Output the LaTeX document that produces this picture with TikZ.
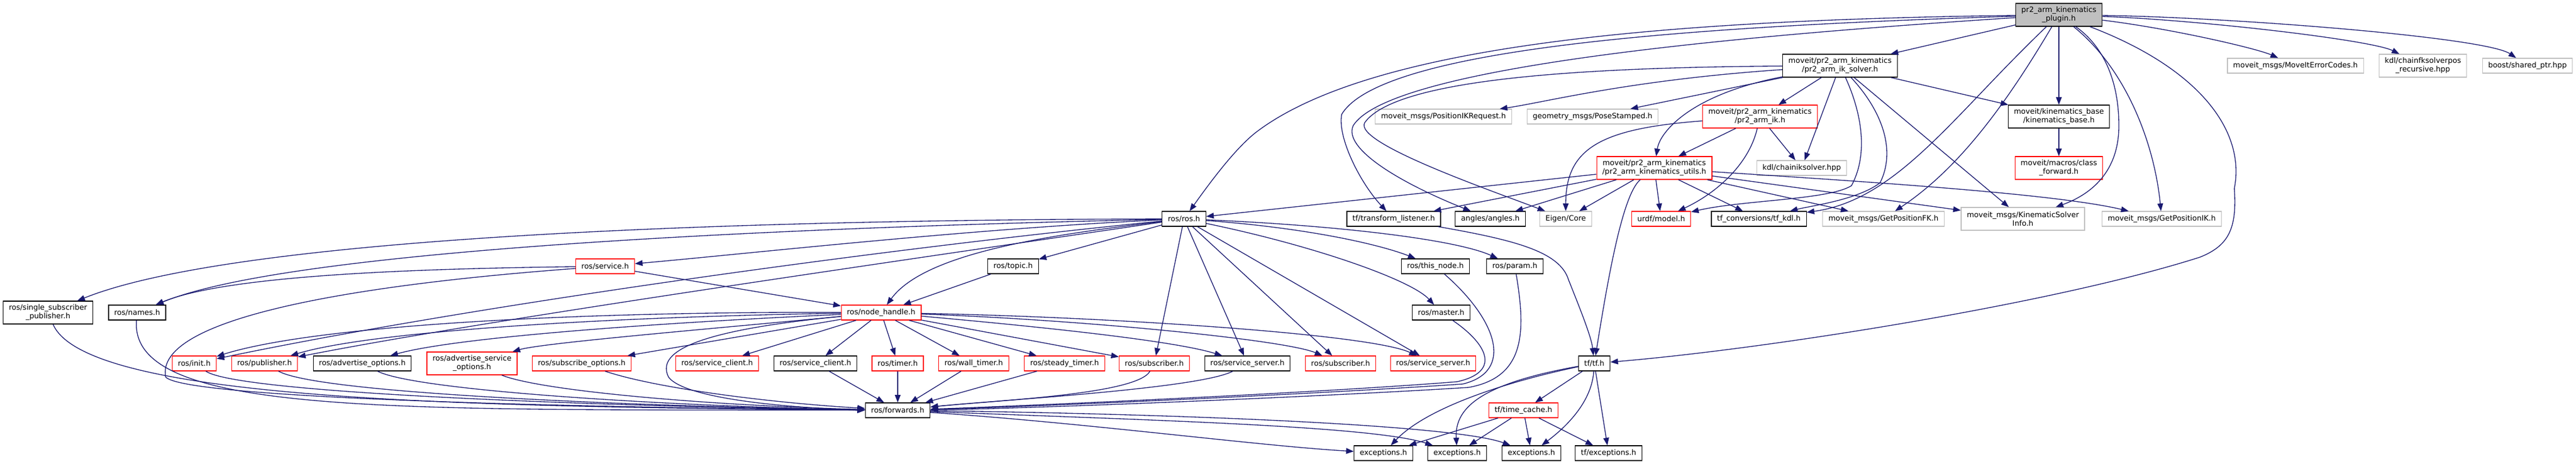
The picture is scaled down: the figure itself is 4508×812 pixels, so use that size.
\documentclass[tikz,border=0pt]{standalone}
\usepackage{fontspec}
\setmainfont{DejaVu Sans}
\usetikzlibrary{arrows.meta}
\definecolor{edgeblue}{HTML}{191970}
\definecolor{extgray}{HTML}{BFBFBF}
\begin{document}
\begin{tikzpicture}[x=0.75pt,y=-0.75pt,
	file/.style={draw,rectangle,line width=0.9pt,inner xsep=7.5pt,inner ysep=2pt,minimum height=19.5pt,align=center,font=\fontsize{9.75pt}{11.25pt}\selectfont},
	two/.style={minimum height=30pt},
	doc/.style={file,draw=black},
	trunc/.style={file,draw=red},
	ext/.style={file,draw=extgray},
	root/.style={file,draw=black,fill=extgray},
	inc/.style={draw=edgeblue,line width=1pt,-{Triangle[length=10pt,width=7.5pt]}}]
	\useasboundingbox (0,0) rectangle (4508,812);
	\node (Pl) at (3603,26) [root,two] {pr2\_arm\_kinematics\\\_plugin.h};
	\node (Is) at (3220,115) [doc,two] {moveit/pr2\_arm\_kinematics\\/pr2\_arm\_ik\_solver.h};
	\node (Me) at (4017,115) [ext] {moveit\_msgs/MoveItErrorCodes.h};
	\node (Fk) at (4240,115) [ext,two] {kdl/chainfksolverpos\\\_recursive.hpp};
	\node (Sp) at (4423,115) [ext] {boost/shared\_ptr.hpp};
	\node (Rq) at (2526,204) [ext] {moveit\_msgs/PositionIKRequest.h};
	\node (Ps) at (2787,204) [ext] {geometry\_msgs/PoseStamped.h};
	\node (Ik) at (3080,204) [trunc,two] {moveit/pr2\_arm\_kinematics\\/pr2\_arm\_ik.h};
	\node (Kb) at (3603,204) [doc,two] {moveit/kinematics\_base\\/kinematics\_base.h};
	\node (Ut) at (2895,294) [trunc,two] {moveit/pr2\_arm\_kinematics\\/pr2\_arm\_kinematics\_utils.h};
	\node (Ci) at (3153,294) [ext] {kdl/chainiksolver.hpp};
	\node (Cf) at (3603,294) [trunc,two] {moveit/macros/class\\\_forward.h};
	\node (Ro) at (2072,383) [doc] {ros/ros.h};
	\node (Tl) at (2439,383) [doc] {tf/transform\_listener.h};
	\node (An) at (2608,383) [doc] {angles/angles.h};
	\node (Ei) at (2740,383) [ext] {Eigen/Core};
	\node (Ur) at (2907,383) [trunc] {urdf/model.h};
	\node (Td) at (3078,383) [doc] {tf\_conversions/tf\_kdl.h};
	\node (Gf) at (3296,383) [ext] {moveit\_msgs/GetPositionFK.h};
	\node (Ks) at (3540,383) [ext,two] {moveit\_msgs/KinematicSolver\\Info.h};
	\node (Gi) at (3783,383) [ext] {moveit\_msgs/GetPositionIK.h};
	\node (Sv) at (1059,466) [trunc] {ros/service.h};
	\node (To) at (1773,466) [doc] {ros/topic.h};
	\node (Tn) at (2512,466) [doc] {ros/this\_node.h};
	\node (Pa) at (2651,466) [doc] {ros/param.h};
	\node (Ss) at (84,547) [doc,two] {ros/single\_subscriber\\\_publisher.h};
	\node (Na) at (240,547) [doc] {ros/names.h};
	\node (Nh) at (1542,547) [trunc] {ros/node\_handle.h};
	\node (Ma) at (2522,547) [doc] {ros/master.h};
	\node (In) at (340,636) [trunc] {ros/init.h};
	\node (Pu) at (463,636) [trunc] {ros/publisher.h};
	\node (Ao) at (634,636) [doc] {ros/advertise\_options.h};
	\node (As) at (826,636) [trunc,two] {ros/advertise\_service\\\_options.h};
	\node (So) at (1018,636) [trunc] {ros/subscribe\_options.h};
	\node (Ca) at (1255,636) [trunc] {ros/service\_client.h};
	\node (Cb) at (1427,636) [doc] {ros/service\_client.h};
	\node (Ti) at (1571,636) [trunc] {ros/timer.h};
	\node (Wt) at (1704,636) [trunc] {ros/wall\_timer.h};
	\node (St) at (1863,636) [trunc] {ros/steady\_timer.h};
	\node (Sa) at (2020,636) [trunc] {ros/subscriber.h};
	\node (Va) at (2183,636) [doc] {ros/service\_server.h};
	\node (Sb) at (2346,636) [trunc] {ros/subscriber.h};
	\node (Vb) at (2508,636) [trunc] {ros/service\_server.h};
	\node (Tf) at (2790,636) [doc] {tf/tf.h};
	\node (Fw) at (1571,718) [doc] {ros/forwards.h};
	\node (Tc) at (2666,718) [trunc] {tf/time\_cache.h};
	\node (Ea) at (2421,793) [doc] {exceptions.h};
	\node (Eb) at (2550,793) [doc] {exceptions.h};
	\node (Ec) at (2680,793) [doc] {exceptions.h};
	\node (Tx) at (2815,793) [doc] {tf/exceptions.h};
	\draw[inc] (Pl) .. controls (2900,35) and (2400,80) .. (2200,230) .. controls (2160,260) and (2110,330) .. (Ro);
	\draw[inc] (Pl) .. controls (3000,45) and (2420,80) .. (2348,200) .. controls (2340,240) and (2380,320) .. (Tl);
	\draw[inc] (Pl) .. controls (3000,65) and (2430,120) .. (2368,220) .. controls (2350,260) and (2450,320) .. (An);
	\draw[inc] (Pl) -- (Is);
	\draw[inc] (Pl) .. controls (3420,200) and (3320,350) .. (Td);
	\draw[inc] (Pl) .. controls (3500,200) and (3420,300) .. (Gf);
	\draw[inc] (Pl) -- (Kb);
	\draw[inc] (Pl) .. controls (3680,80) and (3708,140) .. (3708,220) .. controls (3708,300) and (3660,340) .. (Ks);
	\draw[inc] (Pl) .. controls (3720,120) and (3770,250) .. (Gi);
	\draw[inc] (Pl) .. controls (3850,120) and (3930,230) .. (3910,330) .. controls (3915,400) and (3900,430) .. (3850,450) .. controls (3600,530) and (3100,610) .. (Tf);
	\draw[inc] (Pl) .. controls (3800,50) and (3950,85) .. (Me);
	\draw[inc] (Pl) .. controls (3850,35) and (4150,70) .. (Fk);
	\draw[inc] (Pl) .. controls (3900,30) and (4350,65) .. (Sp);
	\draw[inc] (Is) .. controls (2850,140) and (2700,180) .. (Rq);
	\draw[inc] (Is) -- (Ps);
	\draw[inc] (Is) .. controls (2750,118) and (2440,140) .. (2388,215) .. controls (2370,250) and (2600,330) .. (Ei);
	\draw[inc] (Is) .. controls (2960,165) and (2905,230) .. (Ut);
	\draw[inc] (Is) -- (Ik);
	\draw[inc] (Is) -- (Ci);
	\draw[inc] (Is) .. controls (3250,180) and (3275,260) .. (3240,325) .. controls (3200,350) and (3050,350) .. (Ur);
	\draw[inc] (Is) .. controls (3290,190) and (3320,260) .. (3290,320) .. controls (3250,350) and (3170,360) .. (Td);
	\draw[inc] (Is) -- (Ks);
	\draw[inc] (Is) -- (Kb);
	\draw[inc] (Ik) .. controls (2800,225) and (2740,260) .. (Ei);
	\draw[inc] (Ik) -- (Ut);
	\draw[inc] (Ik) .. controls (3060,290) and (3000,340) .. (Ur);
	\draw[inc] (Ik) -- (Ci);
	\draw[inc] (Kb) -- (Cf);
	\draw[inc] (Ut) -- (Ro);
	\draw[inc] (Ut) -- (Tl);
	\draw[inc] (Ut) -- (An);
	\draw[inc] (Ut) -- (Ei);
	\draw[inc] (Ut) .. controls (2840,340) and (2815,480) .. (Tf);
	\draw[inc] (Ut) -- (Ur);
	\draw[inc] (Ut) -- (Td);
	\draw[inc] (Ut) -- (Gf);
	\draw[inc] (Ut) -- (Ks);
	\draw[inc] (Ut) .. controls (3300,320) and (3600,340) .. (Gi);
	\draw[inc] (Tl) .. controls (2650,420) and (2730,440) .. (2745,490) .. controls (2765,540) and (2785,590) .. (Tf);
	\draw[inc] (Ro) .. controls (1200,385) and (400,420) .. (Ss);
	\draw[inc] (Ro) .. controls (1300,400) and (500,440) .. (Na);
	\draw[inc] (Ro) .. controls (1700,400) and (1300,445) .. (Sv);
	\draw[inc] (Ro) -- (To);
	\draw[inc] (Ro) .. controls (1850,410) and (1620,440) .. (Nh);
	\draw[inc] (Ro) .. controls (1500,440) and (800,540) .. (In);
	\draw[inc] (Ro) .. controls (1550,460) and (850,560) .. (Pu);
	\draw[inc] (Ro) -- (Sa);
	\draw[inc] (Ro) -- (Va);
	\draw[inc] (Ro) -- (Sb);
	\draw[inc] (Ro) -- (Vb);
	\draw[inc] (Ro) .. controls (2300,400) and (2420,430) .. (Tn);
	\draw[inc] (Ro) .. controls (2350,395) and (2550,420) .. (Pa);
	\draw[inc] (Ro) .. controls (2300,430) and (2470,490) .. (Ma);
	\draw[inc] (Sv) .. controls (750,470) and (400,480) .. (Na);
	\draw[inc] (Sv) -- (Nh);
	\draw[inc] (Sv) .. controls (600,500) and (270,560) .. (290,660) .. controls (330,700) and (1100,714) .. (Fw);
	\draw[inc] (To) -- (Nh);
	\draw[inc] (Nh) .. controls (1000,545) and (550,570) .. (In);
	\draw[inc] (Nh) .. controls (1050,555) and (650,580) .. (Pu);
	\draw[inc] (Nh) .. controls (1150,565) and (800,590) .. (Ao);
	\draw[inc] (Nh) .. controls (1250,575) and (950,600) .. (As);
	\draw[inc] (Nh) -- (So);
	\draw[inc] (Nh) -- (Ca);
	\draw[inc] (Nh) -- (Cb);
	\draw[inc] (Nh) -- (Ti);
	\draw[inc] (Nh) -- (Wt);
	\draw[inc] (Nh) -- (St);
	\draw[inc] (Nh) -- (Sa);
	\draw[inc] (Nh) .. controls (1800,570) and (2050,595) .. (Va);
	\draw[inc] (Nh) .. controls (1900,560) and (2250,595) .. (Sb);
	\draw[inc] (Nh) .. controls (1950,555) and (2400,585) .. (Vb);
	\draw[inc] (Nh) .. controls (1200,580) and (1150,620) .. (1170,660) .. controls (1200,700) and (1400,715) .. (Fw);
	\draw[inc] (Ss) .. controls (150,700) and (800,712) .. (Fw);
	\draw[inc] (Na) .. controls (225,730) and (700,716) .. (Fw);
	\draw[inc] (In) .. controls (420,690) and (1100,712) .. (Fw);
	\draw[inc] (Pu) .. controls (560,690) and (1150,712) .. (Fw);
	\draw[inc] (Ao) .. controls (730,685) and (1200,712) .. (Fw);
	\draw[inc] (As) .. controls (950,685) and (1250,710) .. (Fw);
	\draw[inc] (So) .. controls (1150,680) and (1350,705) .. (Fw);
	\draw[inc] (Cb) -- (Fw);
	\draw[inc] (Ti) -- (Fw);
	\draw[inc] (Wt) -- (Fw);
	\draw[inc] (St) -- (Fw);
	\draw[inc] (Sa) .. controls (1990,690) and (1750,700) .. (Fw);
	\draw[inc] (Va) .. controls (2100,680) and (1750,700) .. (Fw);
	\draw[inc] (Tn) .. controls (2620,560) and (2650,650) .. (2560,672) .. controls (2300,690) and (1800,712) .. (Fw);
	\draw[inc] (Pa) .. controls (2670,580) and (2670,660) .. (2570,678) .. controls (2300,695) and (1800,715) .. (Fw);
	\draw[inc] (Ma) .. controls (2600,600) and (2630,650) .. (2550,668) .. controls (2300,688) and (1800,710) .. (Fw);
	\draw[inc] (Fw) .. controls (1900,740) and (2200,780) .. (Ea);
	\draw[inc] (Fw) .. controls (2000,735) and (2400,745) .. (Eb);
	\draw[inc] (Fw) .. controls (2100,725) and (2550,745) .. (Ec);
	\draw[inc] (Tf) -- (Tc);
	\draw[inc] (Tf) .. controls (2650,665) and (2500,710) .. (Ea);
	\draw[inc] (Tf) .. controls (2600,670) and (2545,710) .. (Eb);
	\draw[inc] (Tf) .. controls (2785,710) and (2730,755) .. (Ec);
	\draw[inc] (Tf) -- (Tx);
	\draw[inc] (Tc) -- (Ea);
	\draw[inc] (Tc) -- (Eb);
	\draw[inc] (Tc) -- (Ec);
	\draw[inc] (Tc) -- (Tx);
\end{tikzpicture}
\end{document}
